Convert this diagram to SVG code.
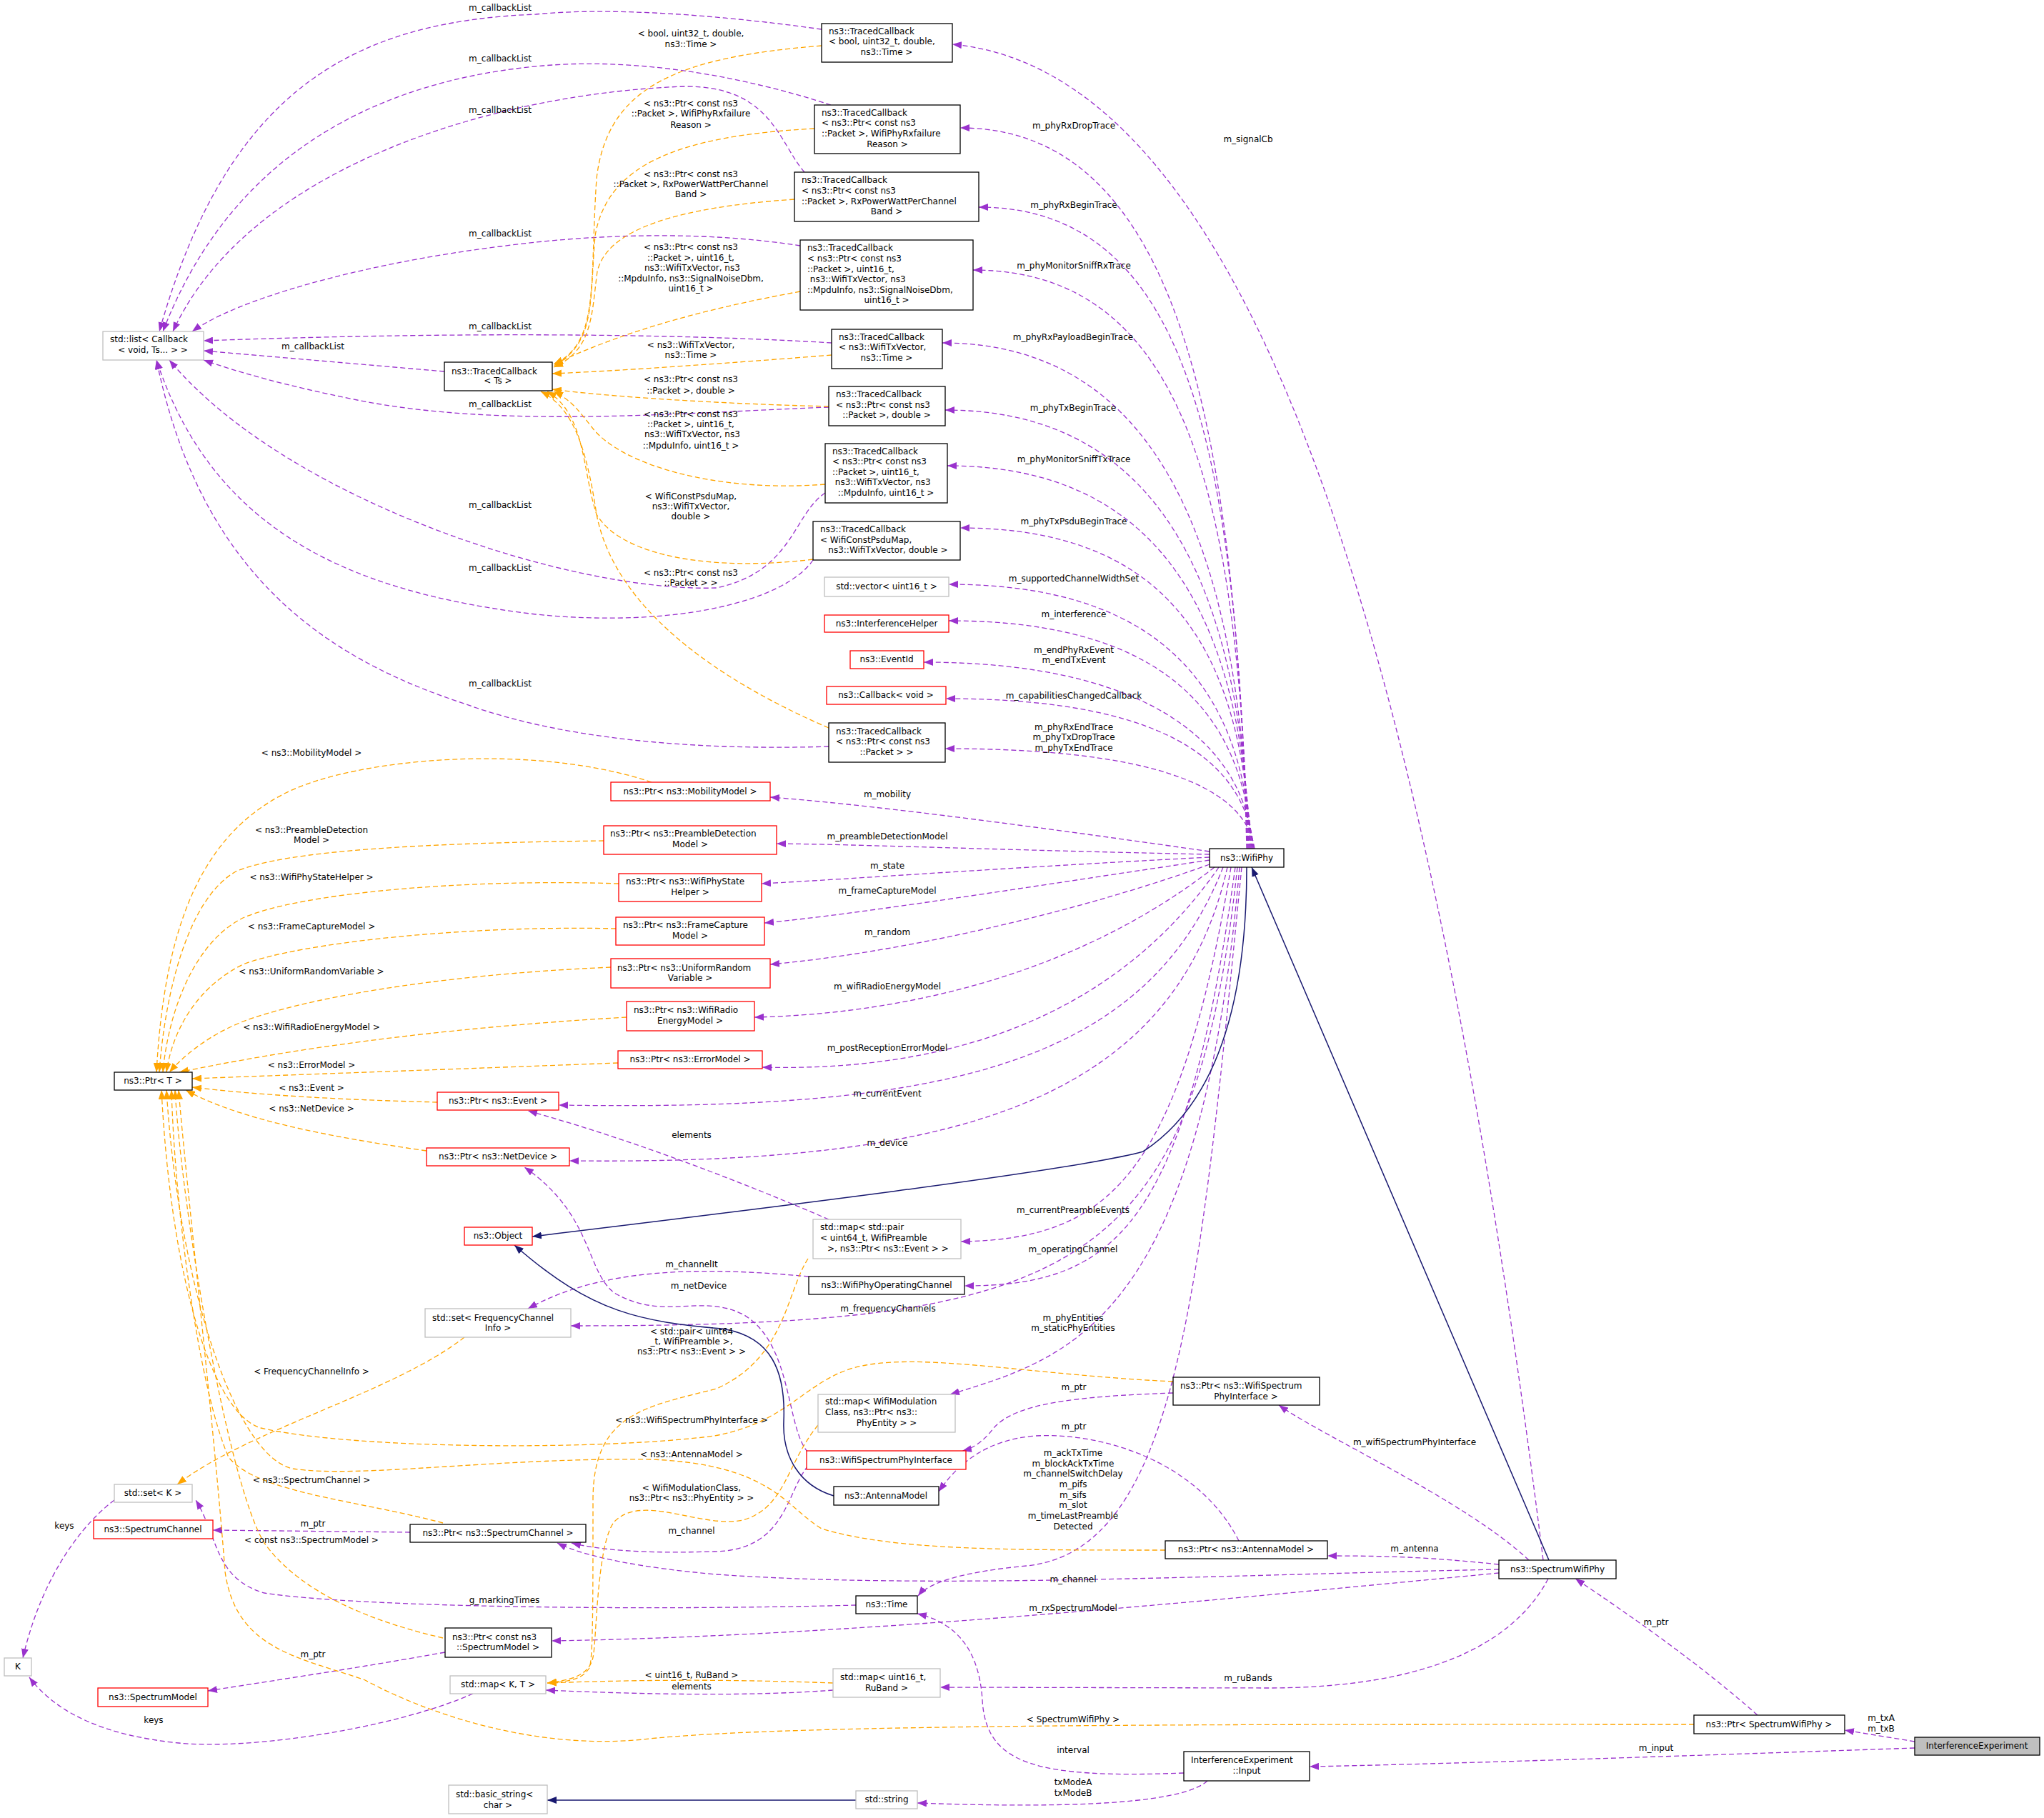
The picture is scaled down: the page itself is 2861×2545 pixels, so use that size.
<svg xmlns="http://www.w3.org/2000/svg" width="2861" height="2545" viewBox="0 0 2861 2545">
<style>
text{font-family:"DejaVu Sans",sans-serif;font-size:12px;white-space:pre;fill:#000}
.c{text-anchor:middle}
.l{text-anchor:start}
rect{fill:#fff;stroke-width:1.3}
.k{stroke:#000}.r{stroke:#ff0000}.g{stroke:#bfbfbf}
.e path,path.e{fill:none;stroke:#9a32cd;stroke-width:1.3;stroke-dasharray:7,4;marker-end:url(#pa)}
path.o{fill:none;stroke:#ffa500;stroke-width:1.3;stroke-dasharray:7,4;marker-end:url(#oa)}
path.s{fill:none;stroke:#191970;stroke-width:1.5;marker-end:url(#na)}
</style>
<defs>
<marker id="pa" markerUnits="userSpaceOnUse" markerWidth="14" markerHeight="10" refX="13" refY="5" orient="auto"><path d="M0,0 L13,5 L0,10 z" fill="#9a32cd"/></marker>
<marker id="oa" markerUnits="userSpaceOnUse" markerWidth="14" markerHeight="10" refX="13" refY="5" orient="auto"><path d="M0,0 L13,5 L0,10 z" fill="#ffa500"/></marker>
<marker id="na" markerUnits="userSpaceOnUse" markerWidth="14" markerHeight="10" refX="13" refY="5" orient="auto"><path d="M0,0 L13,5 L0,10 z" fill="#191970"/></marker>
</defs>
<rect x="0" y="0" width="2861" height="2545" style="fill:#fff;stroke:none"/>
<g id="connectors">
<!-- WifiPhy upper -->
<path class="e" d="M1745,1188 C1730,583 1644,179 1344,179"/>
<path class="e" d="M1746,1188 C1730,649 1670,290 1370,290"/>
<path class="e" d="M1747,1188 C1732,702 1662,378 1362,378"/>
<path class="e" d="M1748,1188 C1734,763 1619,480 1319,480"/>
<path class="e" d="M1749,1188 C1736,820 1623,574 1323,574"/>
<path class="e" d="M1750,1188 C1737,866 1626,652 1326,652"/>
<path class="e" d="M1751,1188 C1738,919 1644,739 1344,739"/>
<path class="e" d="M1752,1188 C1739,966 1628,818 1328,818"/>
<path class="e" d="M1753,1188 C1740,997 1628,869 1328,869"/>
<path class="e" d="M1754,1188 C1741,1031 1593,927 1293,927"/>
<path class="e" d="M1755,1188 C1742,1062 1624,978 1324,978"/>
<path class="e" d="M1756,1188 C1743,1104 1623,1048 1323,1048"/>
<path class="e" d="M2160,2184 C2000,900 1750,100 1333,62"/>
<!-- WifiPhy left -->
<path class="e" d="M1693,1192 C1400,1150 1200,1125 1078,1116"/>
<path class="e" d="M1693,1196 C1400,1190 1200,1182 1087,1181"/>
<path class="e" d="M1693,1200 C1400,1215 1200,1230 1066,1237"/>
<path class="e" d="M1693,1204 C1450,1240 1200,1280 1070,1292"/>
<path class="e" d="M1693,1210 C1500,1280 1250,1335 1078,1350"/>
<path class="e" d="M1700,1214 C1500,1370 1250,1420 1056,1424"/>
<path class="e" d="M1706,1214 C1550,1440 1300,1500 1067,1494"/>
<path class="e" d="M1712,1214 C1600,1500 1300,1555 782,1547"/>
<path class="e" d="M1718,1214 C1640,1560 1300,1630 797,1625"/>
<path class="e" d="M1723,1214 C1650,1650 1550,1735 1345,1738"/>
<path class="e" d="M1729,1214 C1660,1720 1560,1800 1350,1800"/>
<path class="e" d="M1732,1214 C1670,1790 1500,1856 799,1856"/>
<path class="e" d="M1735,1214 C1680,1850 1500,1900 1330,1952"/>
<path class="e" d="M1738,1214 C1680,1800 1650,2170 1437,2192 C1350,2200 1300,2215 1285,2234"/>
<!-- SpectrumWifiPhy -->
<path class="e" d="M2140,2184 C2050,2100 1850,2010 1790,1967"/>
<path class="e" d="M2098,2190 C2000,2180 1950,2178 1858,2178"/>
<path class="e" d="M2098,2197 C1700,2205 1300,2225 1003,2204 C900,2195 820,2180 780,2160"/>
<path class="e" d="M2098,2202 C1700,2240 1200,2290 772,2297"/>
<path class="e" d="M2167,2210 C2120,2300 2000,2363 1774,2363 L1316,2362"/>
<path class="e" d="M2460,2401 C2380,2330 2280,2260 2205,2210"/>
<path class="e" d="M2680,2438 L2582,2422"/>
<path class="e" d="M2680,2447 C2300,2460 2000,2470 1833,2473"/>
<path class="e" d="M1657,2482 C1450,2490 1380,2470 1375,2380 C1370,2300 1330,2270 1284,2259"/>
<path class="e" d="M1690,2493 C1650,2530 1450,2530 1284,2524"/>
<path class="e" d="M1198,2247 C900,2255 500,2250 370,2230 C300,2210 305,2150 274,2100"/>
<path class="e" d="M160,2100 C120,2130 60,2200 32,2321"/>
<path class="e" d="M662,2371 C550,2420 350,2450 250,2440 C150,2430 80,2400 41,2348"/>
<path class="e" d="M1166,2366 C1050,2375 900,2372 764,2366"/>
<path class="e" d="M623,2313 C500,2335 400,2350 291,2367"/>
<path class="e" d="M574,2145 L298,2142"/>
<path class="e" d="M1734,2157 C1680,2050 1550,2005 1450,2010 C1380,2015 1340,2050 1314,2088"/>
<path class="e" d="M1642,1950 C1500,1955 1420,1965 1390,2000 C1375,2020 1360,2028 1347,2031"/>
<path class="e" d="M1160,1707 C1050,1660 900,1600 739,1555"/>
<path class="e" d="M1132,1787 C1000,1775 850,1770 739,1832"/>
<path class="e" d="M1131,2033 C1100,2000 1110,1880 1040,1840 C980,1810 930,1850 860,1810 C820,1780 830,1700 734,1634"/>
<path class="e" d="M1131,2052 C1100,2090 1100,2170 1000,2172 C900,2175 840,2170 800,2160"/>
<!-- callback lists -->
<path class="e" d="M1150,41 C1000,20 850,10 750,20 C500,30 320,120 223,464"/>
<path class="e" d="M1163,147 C1050,110 900,80 760,92 C550,110 330,200 228,464"/>
<path class="e" d="M1126,241 C1090,200 1080,120 958,121 C700,130 350,230 242,464"/>
<path class="e" d="M1120,344 C1000,325 850,325 700,345 C500,370 330,420 269,464"/>
<path class="e" d="M1164,480 C1000,470 700,462 285,477"/>
<path class="e" d="M622,520 L285,491"/>
<path class="e" d="M1160,570 C950,578 700,600 500,560 C400,540 330,520 285,504"/>
<path class="e" d="M1155,690 C1110,720 1110,800 1003,823 C800,830 400,700 237,504"/>
<path class="e" d="M1138,784 C1100,840 950,880 750,860 C500,830 300,750 219,504"/>
<path class="e" d="M1160,1045 C1000,1050 800,1040 650,985 C450,920 280,800 219,504"/>
<!-- orange to TC<Ts> -->
<path class="o" d="M1150,64 C950,80 850,120 835,250 C825,400 840,480 775,510"/>
<path class="o" d="M1140,180 C950,190 850,230 833,330 C825,420 835,480 775,512"/>
<path class="o" d="M1112,279 C950,290 850,320 836,380 C828,440 830,490 775,514"/>
<path class="o" d="M1120,408 C1000,430 880,460 775,510"/>
<path class="o" d="M1164,497 C1000,510 850,520 773,523"/>
<path class="o" d="M1160,569 C1000,565 850,555 773,545"/>
<path class="o" d="M1155,678 C1000,690 870,650 830,600 C810,575 800,560 775,548"/>
<path class="o" d="M1138,783 C1000,800 870,780 835,720 C815,660 820,580 766,548"/>
<path class="o" d="M1160,1019 C1000,950 860,850 835,720 C820,620 800,570 757,548"/>
<!-- orange to Ptr<T> -->
<path class="o" d="M912,1095 C750,1040 500,1060 400,1110 C280,1170 230,1300 219,1501"/>
<path class="o" d="M845,1177 C600,1180 400,1190 330,1220 C260,1260 230,1400 223,1501"/>
<path class="o" d="M866,1237 C650,1230 420,1250 340,1285 C270,1320 235,1420 228,1501"/>
<path class="o" d="M862,1300 C650,1295 420,1320 340,1350 C270,1385 240,1450 233,1501"/>
<path class="o" d="M855,1354 C600,1365 420,1400 340,1430 C290,1450 255,1480 237,1501"/>
<path class="o" d="M877,1424 C600,1440 400,1470 251,1501"/>
<path class="o" d="M865,1488 C600,1498 400,1505 269,1510"/>
<path class="o" d="M612,1543 C500,1540 380,1535 269,1522"/>
<path class="o" d="M597,1611 C450,1590 330,1565 260,1526"/>
<path class="o" d="M1642,1934 C1450,1925 1300,1895 1212,1911 C1130,1925 1110,1990 1000,2010 C850,2030 500,2030 365,1999 C300,1980 240,1800 226,1526"/>
<path class="o" d="M1631,2170 C1400,2170 1250,2170 1150,2140 C1100,2110 1080,2050 912,2043 C700,2040 500,2070 410,2056 C330,2040 250,1800 233,1526"/>
<path class="o" d="M620,2132 C500,2100 360,2090 320,2040 C280,1950 245,1700 240,1526"/>
<path class="o" d="M620,2293 C520,2270 420,2230 370,2160 C320,2080 255,1700 245,1526"/>
<path class="o" d="M2371,2414 C1800,2414 1100,2412 900,2435 C750,2450 600,2400 511,2352 C420,2320 330,2310 315,2200 C300,2000 260,1650 250,1526"/>
<path class="o" d="M650,1872 C550,1950 350,2000 248,2078"/>
<path class="o" d="M1131,1762 C1100,1810 1100,1900 1003,1944 C900,1970 830,1980 830,2100 C830,2250 830,2320 825,2335 C815,2350 800,2354 766,2356"/>
<path class="o" d="M1145,1995 C1100,2050 1100,2110 1040,2128 C980,2140 900,2090 860,2130 C835,2160 835,2300 830,2320 C825,2345 800,2352 766,2356"/>
<path class="o" d="M1166,2356 C1000,2350 880,2352 766,2356"/>
<!-- inheritance -->
<path class="s" d="M1745,1214 C1745,1450 1680,1560 1600,1612 C1500,1640 1000,1700 745,1731"/>
<path class="s" d="M2168,2184 L1752,1214"/>
<path class="s" d="M1167,2094 C1120,2080 1095,2040 1097,1990 C1100,1920 1080,1870 1010,1860 C900,1850 830,1840 720,1743"/>
<path class="s" d="M1198,2520 L766,2520"/>
<!-- labels -->
<g class="c">
<text x="1503" y="180">m_phyRxDropTrace</text>
<text x="1503" y="291">m_phyRxBeginTrace</text>
<text x="1503" y="376">m_phyMonitorSniffRxTrace</text>
<text x="1502" y="476">m_phyRxPayloadBeginTrace</text>
<text x="1502" y="575">m_phyTxBeginTrace</text>
<text x="1503" y="647">m_phyMonitorSniffTxTrace</text>
<text x="1503" y="734">m_phyTxPsduBeginTrace</text>
<text x="1503" y="814">m_supportedChannelWidthSet</text>
<text x="1503" y="864">m_interference</text>
<text x="1503" y="914">m_endPhyRxEvent</text>
<text x="1503" y="928">m_endTxEvent</text>
<text x="1503" y="978">m_capabilitiesChangedCallback</text>
<text x="1503" y="1022">m_phyRxEndTrace</text>
<text x="1503" y="1036">m_phyTxDropTrace</text>
<text x="1503" y="1051">m_phyTxEndTrace</text>
<text x="1747" y="199">m_signalCb</text>
<text x="1242" y="1116">m_mobility</text>
<text x="1242" y="1175">m_preambleDetectionModel</text>
<text x="1242" y="1216">m_state</text>
<text x="1242" y="1251">m_frameCaptureModel</text>
<text x="1242" y="1309">m_random</text>
<text x="1242" y="1385">m_wifiRadioEnergyModel</text>
<text x="1242" y="1471">m_postReceptionErrorModel</text>
<text x="1242" y="1535">m_currentEvent</text>
<text x="1242" y="1604">m_device</text>
<text x="1502" y="1698">m_currentPreambleEvents</text>
<text x="1502" y="1753">m_operatingChannel</text>
<text x="1243" y="1836">m_frequencyChannels</text>
<text x="1502" y="1849">m_phyEntities</text>
<text x="1502" y="1863">m_staticPhyEntities</text>
<text x="1502" y="2038">m_ackTxTime</text>
<text x="1502" y="2053">m_blockAckTxTime</text>
<text x="1502" y="2067">m_channelSwitchDelay</text>
<text x="1502" y="2082">m_pifs</text>
<text x="1502" y="2097">m_sifs</text>
<text x="1502" y="2111">m_slot</text>
<text x="1502" y="2126">m_timeLastPreamble</text>
<text x="1502" y="2141">Detected</text>
<text x="1503" y="1946">m_ptr</text>
<text x="1503" y="2001">m_ptr</text>
<text x="1980" y="2023">m_wifiSpectrumPhyInterface</text>
<text x="1980" y="2172">m_antenna</text>
<text x="1502" y="2215">m_channel</text>
<text x="1502" y="2255">m_rxSpectrumModel</text>
<text x="2318" y="2275">m_ptr</text>
<text x="1747" y="2353">m_ruBands</text>
<text x="1502" y="2411">&lt; SpectrumWifiPhy &gt;</text>
<text x="2633" y="2409">m_txA</text>
<text x="2633" y="2424">m_txB</text>
<text x="2318" y="2451">m_input</text>
<text x="1502" y="2454">interval</text>
<text x="1502" y="2499">txModeA</text>
<text x="1502" y="2514">txModeB</text>
<text x="700" y="15">m_callbackList</text>
<text x="700" y="86">m_callbackList</text>
<text x="700" y="158">m_callbackList</text>
<text x="700" y="331">m_callbackList</text>
<text x="700" y="461">m_callbackList</text>
<text x="700" y="570">m_callbackList</text>
<text x="700" y="711">m_callbackList</text>
<text x="700" y="799">m_callbackList</text>
<text x="700" y="961">m_callbackList</text>
<text x="438" y="489">m_callbackList</text>
<text x="967" y="51">&lt; bool, uint32_t, double,</text>
<text x="967" y="66">ns3::Time &gt;</text>
<text x="967" y="149">&lt; ns3::Ptr&lt; const ns3</text>
<text x="967" y="163">::Packet &gt;, WifiPhyRxfailure</text>
<text x="967" y="179">Reason &gt;</text>
<text x="967" y="248">&lt; ns3::Ptr&lt; const ns3</text>
<text x="967" y="262">::Packet &gt;, RxPowerWattPerChannel</text>
<text x="967" y="276">Band &gt;</text>
<text x="967" y="350">&lt; ns3::Ptr&lt; const ns3</text>
<text x="967" y="365">::Packet &gt;, uint16_t,</text>
<text x="967" y="379"> ns3::WifiTxVector, ns3</text>
<text x="967" y="394">::MpduInfo, ns3::SignalNoiseDbm,</text>
<text x="967" y="408">uint16_t &gt;</text>
<text x="967" y="487">&lt; ns3::WifiTxVector,</text>
<text x="967" y="501">ns3::Time &gt;</text>
<text x="967" y="535">&lt; ns3::Ptr&lt; const ns3</text>
<text x="967" y="551">::Packet &gt;, double &gt;</text>
<text x="967" y="584">&lt; ns3::Ptr&lt; const ns3</text>
<text x="967" y="598">::Packet &gt;, uint16_t,</text>
<text x="967" y="612"> ns3::WifiTxVector, ns3</text>
<text x="967" y="628">::MpduInfo, uint16_t &gt;</text>
<text x="967" y="699">&lt; WifiConstPsduMap,</text>
<text x="967" y="713">ns3::WifiTxVector,</text>
<text x="967" y="727">double &gt;</text>
<text x="967" y="806">&lt; ns3::Ptr&lt; const ns3</text>
<text x="967" y="820">::Packet &gt; &gt;</text>
<text x="436" y="1058">&lt; ns3::MobilityModel &gt;</text>
<text x="436" y="1166">&lt; ns3::PreambleDetection</text>
<text x="436" y="1180">Model &gt;</text>
<text x="436" y="1232">&lt; ns3::WifiPhyStateHelper &gt;</text>
<text x="436" y="1301">&lt; ns3::FrameCaptureModel &gt;</text>
<text x="436" y="1364">&lt; ns3::UniformRandomVariable &gt;</text>
<text x="436" y="1442">&lt; ns3::WifiRadioEnergyModel &gt;</text>
<text x="436" y="1495">&lt; ns3::ErrorModel &gt;</text>
<text x="436" y="1527">&lt; ns3::Event &gt;</text>
<text x="436" y="1556">&lt; ns3::NetDevice &gt;</text>
<text x="968" y="1593">elements</text>
<text x="968" y="1774">m_channelIt</text>
<text x="978" y="1804">m_netDevice</text>
<text x="968" y="1868">&lt; std::pair&lt; uint64</text>
<text x="968" y="1882">_t, WifiPreamble &gt;,</text>
<text x="968" y="1896">ns3::Ptr&lt; ns3::Event &gt; &gt;</text>
<text x="436" y="1924">&lt; FrequencyChannelInfo &gt;</text>
<text x="968" y="1992">&lt; ns3::WifiSpectrumPhyInterface &gt;</text>
<text x="968" y="2040">&lt; ns3::AntennaModel &gt;</text>
<text x="436" y="2076">&lt; ns3::SpectrumChannel &gt;</text>
<text x="968" y="2087">&lt; WifiModulationClass,</text>
<text x="968" y="2101">ns3::Ptr&lt; ns3::PhyEntity &gt; &gt;</text>
<text x="438" y="2137">m_ptr</text>
<text x="968" y="2147">m_channel</text>
<text x="436" y="2160">&lt; const ns3::SpectrumModel &gt;</text>
<text x="706" y="2244">g_markingTimes</text>
<text x="438" y="2320">m_ptr</text>
<text x="968" y="2349">&lt; uint16_t, RuBand &gt;</text>
<text x="968" y="2365">elements</text>
<text x="90" y="2140">keys</text>
<text x="215" y="2412">keys</text>
</g>
</g>
<g id="n1"><rect class="k" x="1150" y="33" width="183" height="54"/><text class="l" x="1160" y="48">ns3::TracedCallback</text><text class="l" x="1160" y="62">&lt; bool, uint32_t, double,</text><text class="c" x="1241" y="77">ns3::Time &gt;</text></g>
<g id="n2"><rect class="k" x="1140" y="147" width="204" height="68"/><text class="l" x="1150" y="162">ns3::TracedCallback</text><text class="l" x="1150" y="176">&lt; ns3::Ptr&lt; const ns3</text><text class="l" x="1150" y="191">::Packet &gt;, WifiPhyRxfailure</text><text class="c" x="1242" y="206">Reason &gt;</text></g>
<g id="n3"><rect class="k" x="1112" y="241" width="258" height="69"/><text class="l" x="1122" y="256">ns3::TracedCallback</text><text class="l" x="1122" y="271">&lt; ns3::Ptr&lt; const ns3</text><text class="l" x="1122" y="286">::Packet &gt;, RxPowerWattPerChannel</text><text class="c" x="1241" y="300">Band &gt;</text></g>
<g id="n4"><rect class="k" x="1120" y="336" width="242" height="98"/><text class="l" x="1130" y="351">ns3::TracedCallback</text><text class="l" x="1130" y="366">&lt; ns3::Ptr&lt; const ns3</text><text class="l" x="1130" y="381">::Packet &gt;, uint16_t,</text><text class="l" x="1130" y="395"> ns3::WifiTxVector, ns3</text><text class="l" x="1130" y="410">::MpduInfo, ns3::SignalNoiseDbm,</text><text class="c" x="1241" y="424">uint16_t &gt;</text></g>
<g id="n5"><rect class="k" x="1164" y="461" width="155" height="55"/><text class="l" x="1174" y="476">ns3::TracedCallback</text><text class="l" x="1174" y="490">&lt; ns3::WifiTxVector,</text><text class="c" x="1241" y="505">ns3::Time &gt;</text></g>
<g id="n6"><rect class="k" x="1160" y="541" width="163" height="55"/><text class="l" x="1170" y="556">ns3::TracedCallback</text><text class="l" x="1170" y="571">&lt; ns3::Ptr&lt; const ns3</text><text class="c" x="1241" y="585">::Packet &gt;, double &gt;</text></g>
<g id="n7"><rect class="k" x="1155" y="621" width="171" height="83"/><text class="l" x="1165" y="636">ns3::TracedCallback</text><text class="l" x="1165" y="650">&lt; ns3::Ptr&lt; const ns3</text><text class="l" x="1165" y="665">::Packet &gt;, uint16_t,</text><text class="l" x="1165" y="679"> ns3::WifiTxVector, ns3</text><text class="c" x="1240" y="694">::MpduInfo, uint16_t &gt;</text></g>
<g id="n8"><rect class="k" x="1138" y="730" width="206" height="54"/><text class="l" x="1148" y="745">ns3::TracedCallback</text><text class="l" x="1148" y="760">&lt; WifiConstPsduMap,</text><text class="c" x="1241" y="774"> ns3::WifiTxVector, double &gt;</text></g>
<g id="n9"><rect class="g" x="1154" y="808" width="174" height="27"/><text class="c" x="1241" y="825">std::vector&lt; uint16_t &gt;</text></g>
<g id="n10"><rect class="r" x="1154" y="861" width="174" height="24"/><text class="c" x="1241" y="877">ns3::InterferenceHelper</text></g>
<g id="n11"><rect class="r" x="1190" y="911" width="103" height="25"/><text class="c" x="1241" y="927">ns3::EventId</text></g>
<g id="n12"><rect class="r" x="1157" y="961" width="167" height="25"/><text class="c" x="1240" y="977">ns3::Callback&lt; void &gt;</text></g>
<g id="n13"><rect class="k" x="1160" y="1012" width="163" height="55"/><text class="l" x="1170" y="1028">ns3::TracedCallback</text><text class="l" x="1170" y="1042">&lt; ns3::Ptr&lt; const ns3</text><text class="c" x="1241" y="1057">::Packet &gt; &gt;</text></g>
<g id="n14"><rect class="g" x="144" y="464" width="141" height="40"/><text class="l" x="154" y="479">std::list&lt; Callback</text><text class="c" x="214" y="494">&lt; void, Ts... &gt; &gt;</text></g>
<g id="n15"><rect class="k" x="622" y="507" width="151" height="40"/><text class="l" x="632" y="524">ns3::TracedCallback</text><text class="c" x="697" y="537">&lt; Ts &gt;</text></g>
<g id="n16"><rect class="r" x="855" y="1095" width="223" height="26"/><text class="c" x="966" y="1112">ns3::Ptr&lt; ns3::MobilityModel &gt;</text></g>
<g id="n17"><rect class="r" x="845" y="1156" width="242" height="40"/><text class="l" x="854" y="1171">ns3::Ptr&lt; ns3::PreambleDetection</text><text class="c" x="966" y="1186">Model &gt;</text></g>
<g id="n18"><rect class="r" x="866" y="1223" width="200" height="39"/><text class="l" x="876" y="1238">ns3::Ptr&lt; ns3::WifiPhyState</text><text class="c" x="966" y="1253">Helper &gt;</text></g>
<g id="n19"><rect class="r" x="862" y="1284" width="208" height="39"/><text class="l" x="872" y="1299">ns3::Ptr&lt; ns3::FrameCapture</text><text class="c" x="966" y="1314">Model &gt;</text></g>
<g id="n20"><rect class="r" x="855" y="1342" width="223" height="41"/><text class="l" x="864" y="1359">ns3::Ptr&lt; ns3::UniformRandom</text><text class="c" x="966" y="1373">Variable &gt;</text></g>
<g id="n21"><rect class="r" x="877" y="1402" width="179" height="41"/><text class="l" x="887" y="1418">ns3::Ptr&lt; ns3::WifiRadio</text><text class="c" x="966" y="1433">EnergyModel &gt;</text></g>
<g id="n22"><rect class="r" x="865" y="1471" width="202" height="25"/><text class="c" x="966" y="1487">ns3::Ptr&lt; ns3::ErrorModel &gt;</text></g>
<g id="n23"><rect class="k" x="160" y="1501" width="109" height="25"/><text class="c" x="214" y="1517">ns3::Ptr&lt; T &gt;</text></g>
<g id="n24"><rect class="r" x="612" y="1529" width="170" height="25"/><text class="c" x="697" y="1545">ns3::Ptr&lt; ns3::Event &gt;</text></g>
<g id="n25"><rect class="r" x="597" y="1607" width="200" height="25"/><text class="c" x="697" y="1623">ns3::Ptr&lt; ns3::NetDevice &gt;</text></g>
<g id="n26"><rect class="r" x="650" y="1718" width="95" height="25"/><text class="c" x="697" y="1734">ns3::Object</text></g>
<g id="n27"><rect class="g" x="1138" y="1707" width="207" height="55"/><text class="l" x="1148" y="1722">std::map&lt; std::pair</text><text class="l" x="1148" y="1737">&lt; uint64_t, WifiPreamble</text><text class="c" x="1241" y="1752"> &gt;, ns3::Ptr&lt; ns3::Event &gt; &gt;</text></g>
<g id="n28"><rect class="k" x="1132" y="1787" width="218" height="25"/><text class="c" x="1241" y="1803">ns3::WifiPhyOperatingChannel</text></g>
<g id="n29"><rect class="g" x="595" y="1832" width="204" height="40"/><text class="l" x="605" y="1849">std::set&lt; FrequencyChannel</text><text class="c" x="697" y="1863">Info &gt;</text></g>
<g id="n30"><rect class="g" x="1145" y="1952" width="192" height="53"/><text class="l" x="1155" y="1966">std::map&lt; WifiModulation</text><text class="l" x="1155" y="1981">Class, ns3::Ptr&lt; ns3::</text><text class="c" x="1241" y="1996">PhyEntity &gt; &gt;</text></g>
<g id="n31"><rect class="k" x="1693" y="1188" width="104" height="26"/><text class="c" x="1745" y="1205">ns3::WifiPhy</text></g>
<g id="n32"><rect class="r" x="1129" y="2031" width="223" height="26"/><text class="c" x="1240" y="2048">ns3::WifiSpectrumPhyInterface</text></g>
<g id="n33"><rect class="k" x="1167" y="2081" width="147" height="26"/><text class="c" x="1240" y="2098">ns3::AntennaModel</text></g>
<g id="n34"><rect class="k" x="1642" y="1928" width="205" height="39"/><text class="l" x="1652" y="1944">ns3::Ptr&lt; ns3::WifiSpectrum</text><text class="c" x="1744" y="1959">PhyInterface &gt;</text></g>
<g id="n35"><rect class="k" x="1631" y="2157" width="227" height="25"/><text class="c" x="1744" y="2173">ns3::Ptr&lt; ns3::AntennaModel &gt;</text></g>
<g id="n36"><rect class="k" x="2098" y="2184" width="164" height="26"/><text class="c" x="2180" y="2201">ns3::SpectrumWifiPhy</text></g>
<g id="n37"><rect class="k" x="1198" y="2234" width="86" height="25"/><text class="c" x="1241" y="2250">ns3::Time</text></g>
<g id="n38"><rect class="g" x="1166" y="2336" width="150" height="40"/><text class="l" x="1176" y="2352">std::map&lt; uint16_t,</text><text class="c" x="1241" y="2367">RuBand &gt;</text></g>
<g id="n39"><rect class="k" x="2371" y="2401" width="211" height="26"/><text class="c" x="2476" y="2418">ns3::Ptr&lt; SpectrumWifiPhy &gt;</text></g>
<g id="n40"><rect class="k" x="1657" y="2452" width="176" height="41"/><text class="l" x="1667" y="2468">InterferenceExperiment</text><text class="c" x="1745" y="2483">::Input</text></g>
<g id="n41"><rect class="g" x="1198" y="2507" width="86" height="25"/><text class="c" x="1241" y="2523">std::string</text></g>
<g id="n42"><rect class="k" x="2680" y="2432" width="175" height="25" style="fill:#bfbfbf"/><text class="c" x="2767" y="2448">InterferenceExperiment</text></g>
<g id="n43"><rect class="g" x="160" y="2078" width="109" height="25"/><text class="c" x="214" y="2094">std::set&lt; K &gt;</text></g>
<g id="n44"><rect class="r" x="131" y="2128" width="167" height="26"/><text class="c" x="214" y="2145">ns3::SpectrumChannel</text></g>
<g id="n45"><rect class="k" x="574" y="2134" width="246" height="25"/><text class="c" x="697" y="2150">ns3::Ptr&lt; ns3::SpectrumChannel &gt;</text></g>
<g id="n46"><rect class="k" x="623" y="2279" width="149" height="41"/><text class="l" x="633" y="2296">ns3::Ptr&lt; const ns3</text><text class="c" x="697" y="2310">::SpectrumModel &gt;</text></g>
<g id="n47"><rect class="g" x="6" y="2321" width="38" height="25"/><text class="c" x="25" y="2337">K</text></g>
<g id="n48"><rect class="r" x="137" y="2363" width="154" height="26"/><text class="c" x="214" y="2380">ns3::SpectrumModel</text></g>
<g id="n49"><rect class="g" x="630" y="2346" width="134" height="25"/><text class="c" x="697" y="2362">std::map&lt; K, T &gt;</text></g>
<g id="n50"><rect class="g" x="628" y="2499" width="138" height="40"/><text class="l" x="638" y="2516">std::basic_string&lt;</text><text class="c" x="697" y="2531">char &gt;</text></g>
</svg>
